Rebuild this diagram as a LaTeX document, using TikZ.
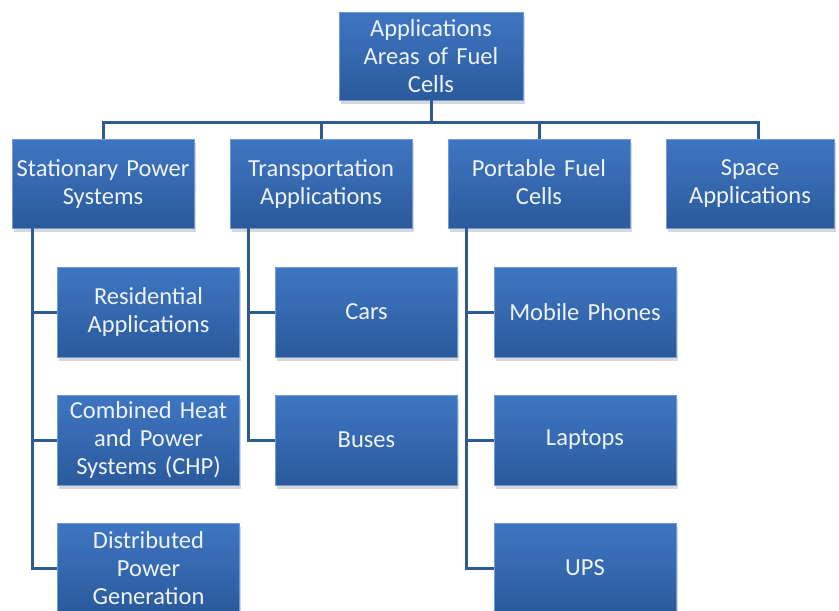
\documentclass[tikz,border=0pt]{standalone}
\usepackage{fontspec}
\setmainfont{Carlito}
\usetikzlibrary{shadows,shadings}
\definecolor{boxtop}{HTML}{3F76C2}
\definecolor{boxbot}{HTML}{2A5A9C}
\definecolor{boxedge}{HTML}{6F9BD6}
\definecolor{linkblue}{HTML}{2F5B94}
\definecolor{labeltext}{HTML}{EEF3FB}
\tikzset{
  boxbase/.style={rectangle, draw=boxedge, line width=0.8pt,
    top color=boxtop, bottom color=boxbot,
    text=labeltext, align=center, inner sep=2pt,
    font=\fontsize{24.5}{28}\selectfont,
    drop shadow={opacity=0.3, shadow xshift=1.5pt, shadow yshift=-4pt}},
  catbox/.style={boxbase, minimum width=180pt, minimum height=89pt, text width=178pt},
  leafbox/.style={boxbase, minimum width=180pt, minimum height=90pt, text width=178pt},
  link/.style={draw=linkblue, line width=3pt}
}
\begin{document}
\begin{tikzpicture}[x=1pt,y=-1pt]
\useasboundingbox[fill=white] (0,0) rectangle (839,611);

% root
\node[boxbase, minimum width=182pt, minimum height=88pt, text width=180pt] (root) at (431,56) {Applications\\Areas of Fuel\\Cells};

% categories
\node[catbox] (stat) at (103,183.5) {Stationary Power\\Systems};
\node[catbox, minimum width=182pt] (trans) at (321,183.5) {Transportation\\Applications};
\node[catbox] (port) at (539,183.5) {Portable Fuel\\Cells\vphantom{y}};
\node[catbox, minimum width=166pt, text width=164pt] (space) at (750,183.5) {Space\\Applications};

% leaves
\node[leafbox] (res) at (148.5,312) {Residential\\Applications};
\node[leafbox] (chp) at (148.5,440) {Combined Heat\\and Power\\Systems (CHP)};
\node[leafbox] (dist) at (148.5,568) {Distributed\\Power\\Generation};
\node[leafbox, minimum width=181pt] (cars) at (366.5,312) {Cars};
\node[leafbox, minimum width=181pt] (buses) at (366.5,440) {Buses};
\node[leafbox] (mob) at (585,312) {Mobile Phones};
\node[leafbox] (lap) at (585,440) {Laptops};
\node[leafbox] (ups) at (585,568) {UPS};

% junction points
\coordinate (bus) at (431,122);
\coordinate (spacetop) at (758,139);

% root to the categories
\draw[link] (root.south) -- (bus);
\draw[link] (stat.north) |- (bus) -| (spacetop);
\draw[link] (trans.north) -- (trans.north |- bus);
\draw[link] (port.north) -- (port.north |- bus);

% stationary branch
\draw[link] ([xshift=-71pt]stat.south) |- (dist.west);
\draw[link] ([xshift=-71pt]stat.south |- res.west) -- (res.west);
\draw[link] ([xshift=-71pt]stat.south |- chp.west) -- (chp.west);

% transportation branch
\draw[link] ([xshift=-73pt]trans.south) |- (buses.west);
\draw[link] ([xshift=-73pt]trans.south |- cars.west) -- (cars.west);

% portable branch
\draw[link] ([xshift=-73pt]port.south) |- (ups.west);
\draw[link] ([xshift=-73pt]port.south |- mob.west) -- (mob.west);
\draw[link] ([xshift=-73pt]port.south |- lap.west) -- (lap.west);
\end{tikzpicture}
\end{document}
